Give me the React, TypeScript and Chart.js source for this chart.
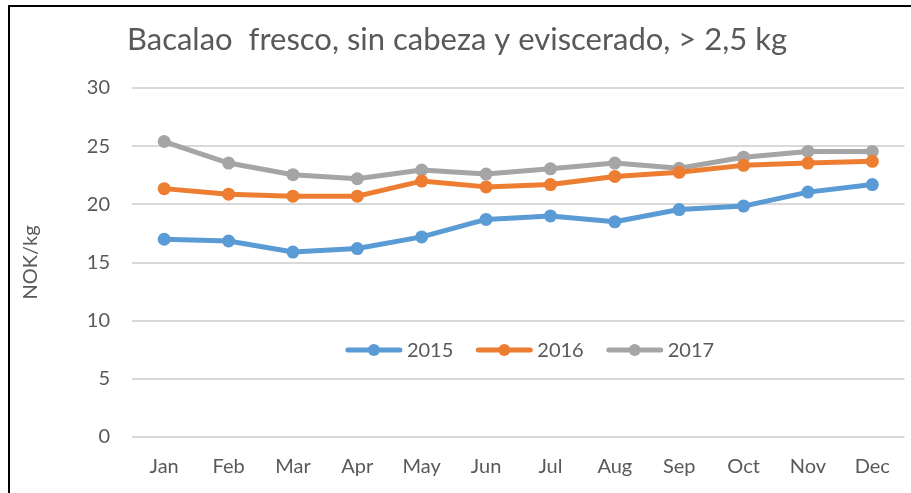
import React, { useEffect, useRef } from "react";
import { Chart, registerables } from "chart.js";

Chart.register(...registerables);

const TITLE = "Bacalao  fresco, sin cabeza y eviscerado, > 2,5 kg";
const Y_TITLE = "NOK/kg";
const MONTHS = ["Jan", "Feb", "Mar", "Apr", "May", "Jun", "Jul", "Aug", "Sep", "Oct", "Nov", "Dec"];
const SERIES_LABELS = ["2015", "2016", "2017"];
const VALUES_2015 = [17.0, 16.85, 15.9, 16.2, 17.2, 18.7, 19.0, 18.5, 19.55, 19.85, 21.05, 21.7];
const VALUES_2016 = [21.35, 20.87, 20.7, 20.7, 22.0, 21.5, 21.7, 22.4, 22.75, 23.35, 23.55, 23.7];
const VALUES_2017 = [25.4, 23.55, 22.55, 22.2, 22.95, 22.6, 23.05, 23.55, 23.1, 24.05, 24.55, 24.55];
const COLORS = ["#5B9BD5", "#ED7D31", "#A5A5A5"];

const FONT = "Lato, 'Open Sans', sans-serif";
const TEXT = "#595959";

const decorPlugin = {
  id: "decor",
  beforeDraw(chart: any) {
    const ctx = chart.ctx;
    ctx.save();
    ctx.fillStyle = "#ffffff";
    ctx.fillRect(0, 0, chart.width, chart.height);
    ctx.strokeStyle = "#000000";
    ctx.lineWidth = 2;
    ctx.beginPath();
    ctx.moveTo(9, chart.height);
    ctx.lineTo(9, 6);
    ctx.lineTo(chart.width, 6);
    ctx.stroke();
    ctx.restore();
  },
  afterDraw(chart: any) {
    const ctx = chart.ctx;
    const area = chart.chartArea;
    ctx.save();
    // title
    ctx.fillStyle = TEXT;
    ctx.font = `31px ${FONT}`;
    ctx.textAlign = "center";
    ctx.textBaseline = "middle";
    ctx.fillText(TITLE, 457, 40);
    // y title
    ctx.save();
    ctx.translate(31, (area.top + area.bottom) / 2);
    ctx.rotate(-Math.PI / 2);
    ctx.font = `20px ${FONT}`;
    ctx.fillText(Y_TITLE, 0, 0);
    ctx.restore();
    // legend
    ctx.font = `20px ${FONT}`;
    const lineLen = 56;
    const gapText = 5;
    const gapItem = 23;
    const items = chart.data.datasets.map((ds: any) => ({
      label: ds.label,
      color: ds.borderColor,
      w: lineLen + gapText + ctx.measureText(ds.label).width,
    }));
    const total = items.reduce((s: number, it: any) => s + it.w, 0) + gapItem * (items.length - 1);
    let x = 530 - total / 2;
    const y = 350;
    ctx.textAlign = "left";
    ctx.textBaseline = "middle";
    for (const it of items) {
      ctx.strokeStyle = it.color;
      ctx.lineWidth = 5;
      ctx.lineCap = "round";
      ctx.beginPath();
      ctx.moveTo(x + 2, y);
      ctx.lineTo(x + lineLen - 2, y);
      ctx.stroke();
      ctx.fillStyle = it.color;
      ctx.beginPath();
      ctx.arc(x + lineLen / 2, y, 6, 0, Math.PI * 2);
      ctx.fill();
      ctx.fillStyle = TEXT;
      ctx.fillText(it.label, x + lineLen + gapText, y + 1);
      x += it.w + gapItem;
    }
    ctx.restore();
  },
};

export default function App() {
  const ref = useRef<HTMLCanvasElement | null>(null);
  useEffect(() => {
    if (!ref.current) return;
    const values = [VALUES_2015, VALUES_2016, VALUES_2017];
    const chart = new Chart(ref.current, {
      type: "line",
      data: {
        labels: MONTHS,
        datasets: SERIES_LABELS.map((label, i) => ({
          label,
          data: values[i],
          borderColor: COLORS[i],
          backgroundColor: COLORS[i],
          borderWidth: 5,
          pointRadius: 6.5,
          pointBorderWidth: 0,
          pointBackgroundColor: COLORS[i],
          tension: 0,
          borderCapStyle: "round",
          borderJoinStyle: "round",
        })),
      },
      options: {
        animation: false,
        responsive: false,
        maintainAspectRatio: false,
        layout: { padding: { top: 88, right: 2, bottom: 0, left: 0 } },
        plugins: {
          legend: { display: false },
          title: { display: false },
          tooltip: { enabled: false },
        },
        scales: {
          x: {
            offset: true,
            grid: { display: false, drawTicks: false },
            border: { display: false },
            ticks: {
              color: TEXT,
              font: { family: FONT, size: 20 },
              padding: 18,
              maxRotation: 0,
              autoSkip: false,
            },
            afterFit: (s: any) => {
              s.height = 56;
            },
          },
          y: {
            min: 0,
            max: 30,
            grid: { color: "#D9D9D9", lineWidth: 2, drawTicks: false },
            border: { display: false },
            ticks: {
              stepSize: 5,
              color: TEXT,
              font: { family: FONT, size: 20 },
              padding: 22,
            },
            afterFit: (s: any) => {
              s.width = 132;
            },
          },
        },
      },
      plugins: [decorPlugin],
    });
    return () => chart.destroy();
  }, []);
  return (
    <div style={{ position: "fixed", left: 0, top: 0, width: 911, height: 493, background: "#fff" }}>
      <canvas ref={ref} width={911} height={493} style={{ display: "block" }} />
    </div>
  );
}
